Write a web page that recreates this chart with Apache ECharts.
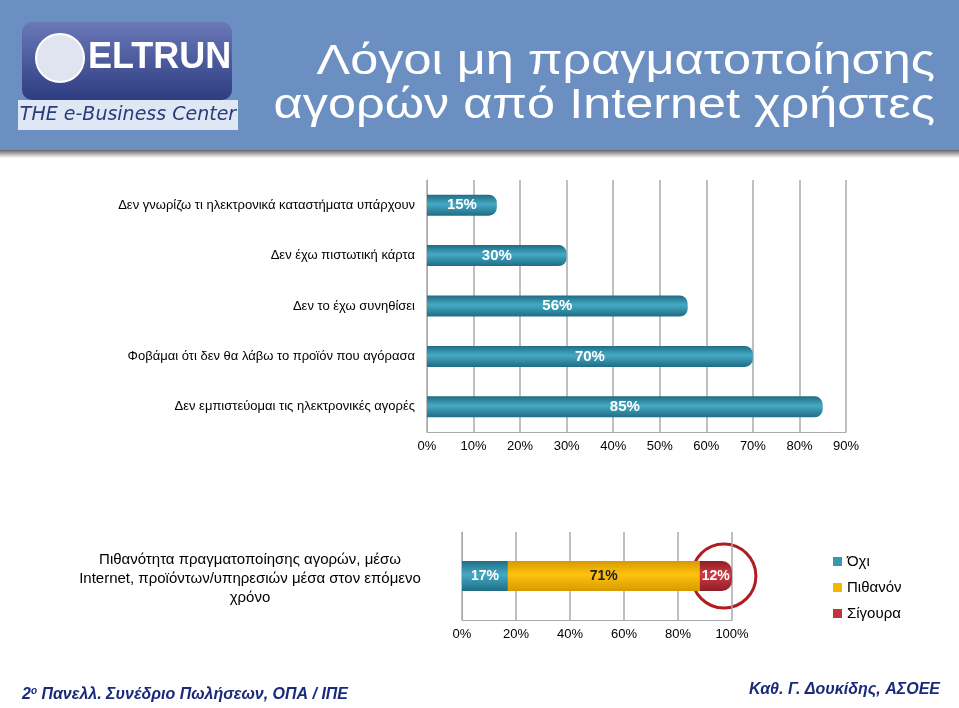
<!DOCTYPE html>
<html><head><meta charset="utf-8">
<script src="https://cdn.jsdelivr.net/npm/echarts@6/dist/echarts.min.js"></script>
<style>html,body{margin:0;padding:0;background:#fff}#c{width:959px;height:708px}</style>
</head><body><div id="c"></div>
<script>
const reasons = ['Δεν γνωρίζω τι ηλεκτρονικά καταστήματα υπάρχουν','Δεν έχω πιστωτική κάρτα','Δεν το έχω συνηθίσει','Φοβάμαι ότι δεν θα λάβω το προϊόν που αγόρασα','Δεν εμπιστεύομαι τις ηλεκτρονικές αγορές'];
const reasonValues = [15,30,56,70,85];
const probCategory = ['Πιθανότητα πραγματοποίησης αγορών, μέσω\nInternet, προϊόντων/υπηρεσιών μέσα στον επόμενο\nχρόνο'];
const probSeries = ['Όχι','Πιθανόν','Σίγουρα'];
const probValues = [17,71,12];
const probColors = ['#3a97b0','#f5b800','#c0343c'];

const chart = echarts.init(document.getElementById('c'));
const grad = (c1,c2)=>new echarts.graphic.LinearGradient(0,0,0,1,[{offset:0,color:c1},{offset:0.45,color:c2},{offset:1,color:c1}]);
const axisLbl = {color:'#000',fontFamily:'Liberation Sans',fontSize:13,formatter:'{value}%'};
const fills = [grad('#1f6d84','#45a9c4'),grad('#d79a00','#ffc20e'),grad('#8e1e25','#d03a44')];
const titleFont = '42px "Liberation Sans"';
chart.setOption({
  animation:false,
  graphic:[
    {type:'rect',shape:{x:0,y:0,width:959,height:150},style:{fill:'#6c8fc1'}},
    {type:'rect',shape:{x:0,y:150,width:959,height:8},style:{fill:new echarts.graphic.LinearGradient(0,0,0,1,[{offset:0,color:'#666'},{offset:1,color:'#fff'}])}},
    {type:'rect',shape:{x:22,y:22,width:210,height:78,r:10},style:{fill:new echarts.graphic.LinearGradient(0,0,0,1,[{offset:0,color:'#6a78b8'},{offset:1,color:'#2e3d80'}])}},
    {type:'circle',shape:{cx:60,cy:58,r:24},style:{fill:'#dfe4f0',stroke:'#fff',lineWidth:2}},
    {type:'text',style:{x:88,y:58,text:'ELTRUN',fill:'#fff',font:'bold 36px "Liberation Sans Narrow", "Liberation Sans"',textVerticalAlign:'middle'}},
    {type:'rect',shape:{x:18,y:100,width:220,height:30},style:{fill:'#dfe6f4'}},
    {type:'text',style:{x:128,y:115,text:'THE e-Business Center',fill:'#2a3a7a',font:'italic 19px "DejaVu Sans"',textAlign:'center',textVerticalAlign:'middle'}},
    {type:'text',x:935,y:62,scaleX:1.2,style:{x:0,y:0,text:'Λόγοι μη πραγματοποίησης',fill:'#fff',font:titleFont,textAlign:'right',textVerticalAlign:'middle'}},
    {type:'text',x:935,y:106,scaleX:1.2,style:{x:0,y:0,text:'αγορών από Internet χρήστες',fill:'#fff',font:titleFont,textAlign:'right',textVerticalAlign:'middle'}},
    {type:'text',style:{x:250,y:579,text:probCategory[0],fill:'#000',font:'15px "Liberation Sans"',textAlign:'center',textVerticalAlign:'middle',lineHeight:19}},
    {type:'text',style:{x:22,y:695,rich:{a:{fontSize:16,fontWeight:'bold',fontStyle:'italic',fill:'#1a2a7a',fontFamily:'Liberation Sans'},s:{fontSize:10,fontWeight:'bold',fontStyle:'italic',fill:'#1a2a7a',fontFamily:'Liberation Sans',verticalAlign:'top',padding:[0,0,8,0]}},text:'{a|2}{s|ο}{a| Πανελλ. Συνέδριο Πωλήσεων, ΟΠΑ / ΙΠΕ}',textVerticalAlign:'middle'}},
    {type:'text',style:{x:940,y:690,text:'Καθ. Γ. Δουκίδης, ΑΣΟΕΕ',fill:'#1a2a7a',font:'italic bold 16px "Liberation Sans"',textAlign:'right',textVerticalAlign:'middle'}},
    {type:'circle',id:'ring',shape:{cx:-100,cy:-100,r:32},style:{fill:'none',stroke:'#b01c22',lineWidth:3}}
  ],
  grid:[{left:427,top:180,width:419,height:252},{left:462,top:532,width:270,height:88}],
  xAxis:[
    {gridIndex:0,type:'value',min:0,max:90,interval:10,axisLabel:axisLbl,axisLine:{show:true,lineStyle:{color:'#aaa'}},axisTick:{show:false},splitLine:{lineStyle:{color:'#aaa',width:1.5}}},
    {gridIndex:1,type:'value',min:0,max:100,interval:20,axisLabel:axisLbl,axisLine:{show:true,lineStyle:{color:'#aaa'}},axisTick:{show:false},splitLine:{lineStyle:{color:'#aaa',width:1.5}}}
  ],
  yAxis:[
    {gridIndex:0,type:'category',inverse:true,data:reasons,axisLabel:{color:'#000',fontFamily:'Liberation Sans',fontSize:13,margin:12},axisLine:{lineStyle:{color:'#aaa'}},axisTick:{lineStyle:{color:'#aaa'}}},
    {gridIndex:1,type:'category',data:[''],axisLabel:{show:false},axisLine:{lineStyle:{color:'#aaa'}},axisTick:{lineStyle:{color:'#aaa'}}}
  ],
  legend:{orient:'vertical',left:828,top:549,icon:'rect',itemWidth:9,itemHeight:9,itemGap:11,textStyle:{fontSize:15,fontFamily:'Liberation Sans',color:'#000'},data:probSeries.map((n,i)=>({name:n,itemStyle:{color:probColors[i]}}))},
  series:[
    {type:'bar',xAxisIndex:0,yAxisIndex:0,data:reasonValues,barWidth:21,itemStyle:{color:fills[0],borderRadius:[0,8,8,0]},label:{show:true,position:'inside',formatter:'{c}%',color:'#fff',fontWeight:'bold',fontSize:15,fontFamily:'Liberation Sans'}},
    ...probSeries.map((n,i)=>({type:'bar',name:n,stack:'p',xAxisIndex:1,yAxisIndex:1,data:[probValues[i]],barWidth:30,
      itemStyle:{color:fills[i],borderRadius:i==2?[0,10,10,0]:0},
      label:{show:true,position:'inside',formatter:'{c}%',color:i==1?'#222':'#fff',fontWeight:'bold',fontSize:14,fontFamily:'Liberation Sans'}}))
  ]
});
const p = chart.convertToPixel({xAxisIndex:1,yAxisIndex:1},[100-probValues[2]/4,0]);
chart.setOption({graphic:[{id:'ring',shape:{cx:p[0],cy:p[1],r:32}}]});
</script></body></html>
